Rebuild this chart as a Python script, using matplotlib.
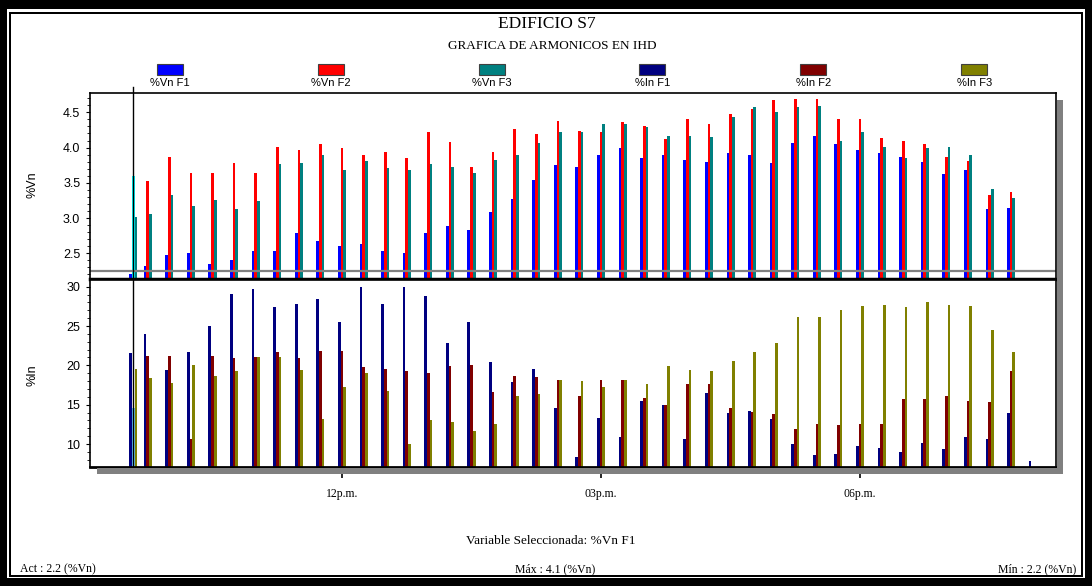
import matplotlib
matplotlib.use("Agg")
import matplotlib.pyplot as plt
from matplotlib.patches import Rectangle
from matplotlib.ticker import MultipleLocator
import numpy as np

plt.rcParams['font.family'] = ['Liberation Sans', 'DejaVu Sans']

# horas de medicion
horas = ["09:35", "09:45", "10:00", "10:15", "10:30", "10:45", "11:00", "11:15",
         "11:30", "11:45", "12:00", "12:15", "12:30", "12:45", "13:00", "13:15",
         "13:30", "13:45", "14:00", "14:15", "14:30", "14:45", "15:00", "15:15",
         "15:30", "15:45", "16:00", "16:15", "16:30", "16:45", "17:00", "17:15",
         "17:30", "17:45", "18:00", "18:15", "18:30", "18:45", "19:00", "19:15",
         "19:30", "19:45", "20:00"]

# armonicos de tension (%Vn)
vn_f1 = [2.20, 2.32, 2.48, 2.51, 2.35, 2.41, 2.53, 2.53, 2.79, 2.67, 2.60, 2.63, 2.53,
         2.51, 2.79, 2.88, 2.83, 3.08, 3.27, 3.54, 3.75, 3.73, 3.89, 3.99, 3.85, 3.90,
         3.82, 3.80, 3.92, 3.89, 3.78, 4.07, 4.17, 4.05, 3.96, 3.92, 3.87, 3.80, 3.62,
         3.68, 3.13, 3.14, 0]
vn_f2 = [3.59, 3.52, 3.87, 3.64, 3.64, 3.78, 3.64, 4.01, 3.96, 4.05, 3.99, 3.89, 3.94,
         3.85, 4.22, 4.08, 3.73, 3.94, 4.26, 4.19, 4.38, 4.24, 4.22, 4.36, 4.31, 4.12,
         4.40, 4.34, 4.47, 4.54, 4.67, 4.69, 4.69, 4.40, 4.40, 4.14, 4.10, 4.05, 3.87,
         3.81, 3.32, 3.37, 0]
vn_f3 = [3.01, 3.06, 3.32, 3.17, 3.26, 3.13, 3.24, 3.77, 3.78, 3.89, 3.68, 3.81, 3.71,
         3.68, 3.77, 3.73, 3.64, 3.82, 3.89, 4.06, 4.22, 4.22, 4.33, 4.34, 4.29, 4.17,
         4.17, 4.15, 4.43, 4.58, 4.50, 4.58, 4.59, 4.10, 4.22, 4.01, 3.85, 3.99, 4.01,
         3.90, 3.41, 3.28, 0]

# armonicos de corriente (%In)
in_f1 = [21.6, 24.0, 19.4, 21.7, 25.0, 29.1, 29.7, 27.4, 27.8, 28.4, 25.5, 29.9, 27.8,
         29.9, 28.8, 22.8, 25.5, 20.4, 17.9, 19.6, 14.6, 8.3, 13.3, 10.9, 15.5, 15.0,
         10.6, 16.5, 13.9, 14.2, 13.2, 10.0, 8.6, 8.7, 9.8, 9.5, 9.0, 10.1, 9.4,
         10.9, 10.6, 13.9, 7.8]
in_f2 = [14.6, 21.2, 21.2, 10.6, 21.2, 20.9, 21.0, 21.7, 20.9, 21.8, 21.8, 19.8, 19.6,
         19.3, 19.0, 19.9, 20.1, 16.6, 18.7, 18.5, 18.2, 16.1, 18.2, 18.2, 15.8, 14.9,
         17.6, 17.6, 14.6, 14.1, 13.8, 11.9, 12.5, 12.4, 12.5, 12.5, 15.7, 15.7, 16.1,
         15.5, 15.3, 19.3, 0]
in_f3 = [19.6, 18.4, 17.7, 20.1, 18.7, 19.3, 21.0, 21.0, 19.4, 13.2, 17.2, 19.0, 16.8,
         10.0, 13.0, 12.8, 11.6, 12.5, 16.1, 16.3, 18.2, 18.0, 17.2, 18.2, 17.6, 19.9,
         19.4, 19.3, 20.6, 21.7, 22.9, 26.1, 26.1, 27.0, 27.5, 27.7, 27.4, 28.1, 27.7,
         27.5, 24.5, 21.7, 0]

nombres = ["%Vn F1", "%Vn F2", "%Vn F3", "%In F1", "%In F2", "%In F3"]
colores = ["#0000ff", "#ff0000", "#008080", "#000080", "#800000", "#808000"]

x = np.array([int(h[:2]) + int(h[3:]) / 60 for h in horas])
cursor = x[0]

W, H = 1092, 586
fig = plt.figure(figsize=(W / 100, H / 100), dpi=100)


def caja(x0, y0, x1, y1, color="black"):
    fig.add_artist(Rectangle((x0 / W, 1 - y1 / H), (x1 - x0) / W, (y1 - y0) / H,
                             transform=fig.transFigure, color=color, lw=0))


def ejes(l, t, r, b):
    return fig.add_axes([l / W, 1 - b / H, (r - l) / W, (b - t) / H])


# marco exterior
caja(0, 0, W, 9)
caja(0, H - 8, W, H)
caja(0, 0, 7, H)
caja(W - 7, 0, W, H)
caja(9, 12, W - 9, 14)
caja(9, H - 11, W - 9, H - 9)
caja(9, 12, 11, H - 9)
caja(W - 11, 12, W - 9, H - 9)

# sombras
caja(1057, 100, 1063, 474, "#808080")
caja(97, 468, 1063, 474, "#808080")

ax1 = ejes(90, 93, 1056, 279)
ax2 = ejes(90, 280, 1056, 467)

w = 0.031
col_f2_top = ["#00ffff"] + [colores[1]] * (len(x) - 1)
col_f2_bot = ["#66ccff"] + [colores[4]] * (len(x) - 1)

ax1.bar(x - w, vn_f1, w, color=colores[0], lw=0)
ax1.bar(x, vn_f2, w, color=col_f2_top, lw=0)
ax1.bar(x + w, vn_f3, w, color=colores[2], lw=0)
ax2.bar(x - w, in_f1, w, color=colores[3], lw=0)
ax2.bar(x, in_f2, w, color=col_f2_bot, lw=0)
ax2.bar(x + w, in_f3, w, color=colores[5], lw=0)

ax1.axhline(2.25, color="#808080", lw=1.6)
ax1.axvline(cursor - 0.005, ymax=1.03, color="black", lw=1, clip_on=False)
ax2.axvline(cursor - 0.005, color="black", lw=1)

for ax in (ax1, ax2):
    ax.set_xlim(9.081, 20.27)
    for s in ax.spines.values():
        s.set_linewidth(1.2)
        s.set_color("black")
    ax.tick_params(axis="y", which="major", length=3, width=0.8, pad=4, labelsize=9)
    ax.tick_params(axis="y", which="minor", length=2.2, width=0.6)

ax1.set_ylim(2.135, 4.774)
ax1.yaxis.set_major_locator(MultipleLocator(0.5))
ax1.yaxis.set_minor_locator(MultipleLocator(0.1))
ax1.set_xticks([])
ax1.spines["bottom"].set_linewidth(2.5)

ax2.set_ylim(7.08, 30.85)
ax2.yaxis.set_major_locator(MultipleLocator(5))
ax2.yaxis.set_minor_locator(MultipleLocator(1))
ax2.spines["bottom"].set_linewidth(2)
ax2.set_xticks([12, 15, 18])
ax2.set_xticklabels(["12p.m.", "03p.m.", "06p.m."], family="Liberation Serif", fontsize=8.5)
ax2.tick_params(axis="x", length=8, width=1.2, pad=7)

fig.text(33 / W, 1 - 185 / H, "%Vn", rotation=90, ha="center", va="center", fontsize=9)
fig.text(33 / W, 1 - 375 / H, "%In", rotation=90, ha="center", va="center", fontsize=9)

# titulos
fig.text(547 / W, 1 - 24 / H, "EDIFICIO S7", ha="center", va="center",
         family="Liberation Serif", fontsize=12.5)
fig.text(552 / W, 1 - 46 / H, "GRAFICA DE ARMONICOS EN IHD", ha="center", va="center",
         family="Liberation Serif", fontsize=9.5)

# leyenda
for i, (nom, c) in enumerate(zip(nombres, colores)):
    cx = 169.7 + 160.9 * i
    fig.add_artist(Rectangle(((cx - 13) / W, 1 - 75 / H), 26 / W, 11 / H,
                             transform=fig.transFigure, facecolor=c,
                             edgecolor="#404040", lw=0.8))
    fig.text(cx / W, 1 - 82.5 / H, nom, ha="center", va="center", fontsize=8)

# pie
fig.text(551 / W, 1 - 541 / H, "Variable Seleccionada: %Vn F1", ha="center", va="center",
         family="Liberation Serif", fontsize=9.5)
fig.text(20 / W, 1 - 569 / H, "Act : 2.2 (%Vn)", ha="left", va="center",
         family="Liberation Serif", fontsize=8.5)
fig.text(555 / W, 1 - 569 / H, "Máx : 4.1 (%Vn)", ha="center", va="center",
         family="Liberation Serif", fontsize=8.5)
fig.text(1076 / W, 1 - 569 / H, "Mín : 2.2 (%Vn)", ha="right", va="center",
         family="Liberation Serif", fontsize=8.5)

fig.savefig("out.png", dpi=100)
